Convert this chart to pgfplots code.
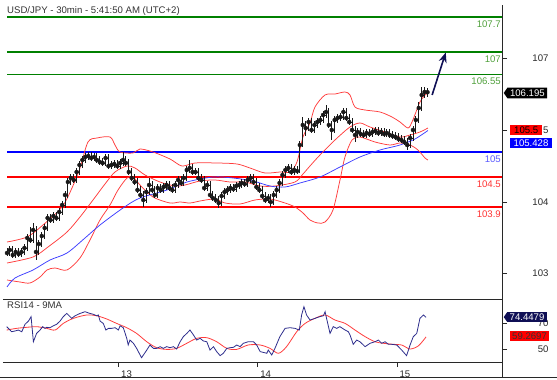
\documentclass[border=0pt]{standalone}
\usepackage{fontspec}
\setmainfont{Liberation Sans}
\usepackage{pgfplots}
\usepackage{pgfplotstable}
\pgfplotsset{compat=1.18}
\usetikzlibrary{shapes.symbols,arrows.meta}

\definecolor{lvgreen}{RGB}{0,128,0}
\definecolor{lvgreentxt}{RGB}{80,160,60}
\definecolor{lvblue}{RGB}{0,0,255}
\definecolor{lvbluetxt}{RGB}{90,90,255}
\definecolor{lvred}{RGB}{255,0,0}
\definecolor{lvredtxt}{RGB}{255,50,50}
\definecolor{band}{RGB}{255,60,60}
\definecolor{ma}{RGB}{60,60,255}
\definecolor{barcol}{RGB}{25,25,25}
\definecolor{navy}{RGB}{15,15,85}
\definecolor{rsiblue}{RGB}{45,45,140}
\definecolor{rsired}{RGB}{255,60,60}
\definecolor{axcol}{RGB}{40,40,40}

\pgfdeclareplotmark{otick}{\pgfpathmoveto{\pgfqpoint{-1.5pt}{0pt}}\pgfpathlineto{\pgfqpoint{0pt}{0pt}}\pgfusepathqstroke}
\pgfdeclareplotmark{ctick}{\pgfpathmoveto{\pgfqpoint{0pt}{0pt}}\pgfpathlineto{\pgfqpoint{1.5pt}{0pt}}\pgfusepathqstroke}

\newcommand{\fs}{\fontsize{9.6}{11}\selectfont}

\pgfplotstableread{
i o h l c
0 103.00 103.07 102.91 102.98
1 102.98 103.11 102.91 103.04
2 103.04 103.11 102.87 102.94
3 102.94 103.07 102.87 103.00
4 103.00 103.07 102.89 102.96
5 102.96 103.07 102.89 103.00
6 103.00 103.15 102.93 103.08
7 103.08 103.35 103.01 103.28
8 103.28 103.50 103.17 103.24
9 103.24 103.58 103.17 103.44
10 103.44 103.51 102.84 103.00
11 103.00 103.23 102.93 103.16
12 103.16 103.39 103.09 103.32
13 103.32 103.55 103.25 103.48
14 103.48 103.75 103.41 103.68
15 103.68 103.75 103.57 103.64
16 103.64 103.79 103.57 103.72
17 103.72 103.79 103.61 103.68
18 103.68 103.87 103.61 103.80
19 103.80 104.01 103.73 103.94
20 103.94 104.21 103.87 104.14
21 104.14 104.47 104.07 104.40
22 104.40 104.55 104.33 104.48
23 104.48 104.55 104.37 104.44
24 104.44 104.67 104.37 104.60
25 104.60 104.81 104.53 104.74
26 104.74 104.91 104.67 104.84
27 104.84 104.97 104.77 104.90
28 104.90 104.99 104.83 104.92
29 104.92 104.99 104.81 104.88
30 104.88 104.97 104.81 104.90
31 104.90 104.97 104.77 104.84
32 104.84 104.91 104.73 104.80
33 104.80 104.87 104.71 104.78
34 104.78 104.95 104.71 104.88
35 104.88 104.95 104.65 104.72
36 104.72 104.81 104.65 104.74
37 104.74 104.83 104.67 104.76
38 104.76 104.83 104.65 104.72
39 104.72 104.85 104.65 104.78
40 104.78 105.00 104.71 104.84
41 104.84 104.91 104.71 104.78
42 104.78 104.85 104.53 104.60
43 104.60 104.67 104.41 104.48
44 104.48 104.55 104.33 104.40
45 104.40 104.47 104.17 104.24
46 104.24 104.31 104.07 104.14
47 104.14 104.21 103.90 104.04
48 104.04 104.27 103.97 104.20
49 104.20 104.48 104.13 104.34
50 104.34 104.41 104.17 104.24
51 104.24 104.31 104.07 104.14
52 104.14 104.35 104.07 104.28
53 104.28 104.35 104.17 104.24
54 104.24 104.37 104.17 104.30
55 104.30 104.41 104.23 104.34
56 104.34 104.41 104.21 104.28
57 104.28 104.35 104.17 104.24
58 104.24 104.41 104.17 104.34
59 104.34 104.51 104.27 104.44
60 104.44 104.51 104.31 104.38
61 104.38 104.55 104.31 104.48
62 104.48 104.71 104.41 104.64
63 104.64 104.84 104.57 104.68
64 104.68 104.75 104.53 104.60
65 104.60 104.67 104.53 104.60
66 104.60 104.67 104.41 104.48
67 104.48 104.55 104.37 104.44
68 104.44 104.51 104.21 104.28
69 104.28 104.41 104.21 104.34
70 104.34 104.41 104.07 104.14
71 104.14 104.21 104.01 104.08
72 104.08 104.15 103.97 104.04
73 104.04 104.11 103.88 103.98
74 103.98 104.19 103.91 104.12
75 104.12 104.27 104.05 104.20
76 104.20 104.31 104.13 104.24
77 104.24 104.35 104.17 104.28
78 104.28 104.35 104.19 104.26
79 104.26 104.39 104.19 104.32
80 104.32 104.41 104.25 104.34
81 104.34 104.45 104.27 104.38
82 104.38 104.45 104.29 104.36
83 104.36 104.51 104.29 104.44
84 104.44 104.56 104.37 104.48
85 104.48 104.55 104.33 104.40
86 104.40 104.47 104.23 104.30
87 104.30 104.37 104.17 104.24
88 104.24 104.31 104.05 104.12
89 104.12 104.19 103.97 104.04
90 104.04 104.15 103.97 104.08
91 104.08 104.15 103.90 104.00
92 104.00 104.21 103.93 104.14
93 104.14 104.31 104.07 104.24
94 104.24 104.45 104.17 104.38
95 104.38 104.61 104.31 104.54
96 104.54 104.71 104.47 104.64
97 104.64 104.75 104.57 104.68
98 104.68 104.75 104.53 104.60
99 104.60 104.71 104.53 104.64
100 104.64 104.71 104.55 104.62
101 104.62 105.21 104.58 105.14
102 105.14 105.70 105.10 105.54
103 105.54 105.62 105.32 105.48
104 105.48 105.67 105.41 105.60
105 105.60 105.67 105.37 105.44
106 105.44 105.61 105.37 105.54
107 105.54 105.67 105.47 105.60
108 105.60 105.71 105.53 105.64
109 105.64 105.81 105.57 105.74
110 105.74 105.94 105.67 105.80
111 105.80 105.87 105.47 105.54
112 105.54 105.61 105.24 105.44
113 105.44 105.71 105.37 105.64
114 105.64 105.75 105.57 105.68
115 105.68 105.77 105.61 105.70
116 105.70 105.88 105.63 105.80
117 105.80 105.87 105.61 105.68
118 105.68 105.75 105.53 105.60
119 105.60 105.67 105.37 105.44
120 105.44 105.51 105.20 105.34
121 105.34 105.47 105.27 105.40
122 105.40 105.47 105.29 105.36
123 105.36 105.43 105.27 105.34
124 105.34 105.45 105.27 105.38
125 105.38 105.45 105.29 105.36
126 105.36 105.47 105.29 105.40
127 105.40 105.49 105.33 105.42
128 105.42 105.49 105.31 105.38
129 105.38 105.47 105.31 105.40
130 105.40 105.47 105.29 105.36
131 105.36 105.45 105.29 105.38
132 105.38 105.45 105.27 105.34
133 105.34 105.41 105.25 105.32
134 105.32 105.39 105.23 105.30
135 105.30 105.37 105.19 105.26
136 105.26 105.33 105.17 105.24
137 105.24 105.31 105.13 105.20
138 105.20 105.27 105.04 105.14
139 105.14 105.35 105.07 105.28
140 105.28 105.51 105.21 105.44
141 105.44 105.71 105.37 105.64
142 105.64 106.00 105.57 105.88
143 105.88 106.30 105.81 106.14
144 106.14 106.30 106.08 106.20
145 106.20 106.28 106.10 106.195
}\bars

\pgfplotstableread{
i p
0 103.20
6.9 103.30
12.41 103.54
18.97 103.90
22.41 104.28
25.17 104.68
27.93 105.20
31.03 105.28
35.52 105.30
37.24 105.14
38.97 105.00
43.45 104.98
45.86 105.06
50.34 105.00
56.21 104.86
60.34 104.72
64.83 104.78
72.41 104.78
79.31 104.76
83.79 104.68
88.97 104.58
94.14 104.60
97.59 104.60
100.0 104.80
102.07 105.30
104.48 105.58
106.21 105.90
109.66 106.14
113.1 106.16
116.55 106.20
118.28 106.14
120.0 105.90
123.45 105.84
128.62 105.80
132.76 105.70
135.52 105.60
138.28 105.48
139.66 105.60
141.03 105.80
142.41 106.00
144.14 106.14
145.17 106.18
}\bbup

\pgfplotstableread{
i p
0 102.78
8.97 102.90
14.14 103.10
20.69 103.40
25.17 103.70
29.66 104.04
33.79 104.36
37.24 104.60
41.38 104.72
44.14 104.68
47.59 104.54
52.76 104.40
57.93 104.32
61.38 104.34
66.55 104.42
71.72 104.44
76.9 104.40
82.07 104.40
87.24 104.32
92.41 104.32
99.31 104.40
102.07 104.56
104.48 104.72
107.93 104.94
113.1 105.24
118.28 105.50
121.72 105.58
125.17 105.50
130.34 105.40
135.52 105.30
138.97 105.34
142.41 105.40
145.17 105.48
}\bbmid

\pgfplotstableread{
i p
0 102.44
4.48 102.40
7.93 102.38
11.38 102.50
13.79 102.64
16.55 102.68
20.69 102.64
25.17 102.88
28.62 103.24
32.07 103.64
35.52 103.94
38.28 104.24
41.38 104.48
43.45 104.50
45.86 104.34
50.34 104.10
56.21 103.98
59.66 104.00
63.1 103.98
66.55 104.02
71.72 104.06
75.17 103.98
80.34 103.96
85.52 104.04
90.69 104.06
95.86 103.98
99.31 103.90
102.07 103.78
104.48 103.64
107.24 103.58
109.66 103.60
112.41 103.84
114.83 104.44
116.55 104.90
118.97 105.24
121.72 105.30
126.9 105.20
132.07 105.14
135.52 105.18
138.97 105.14
141.72 105.04
144.14 104.88
145.17 104.84
}\bblow

\pgfplotstableread{
i p
0 102.30
2.76 102.48
8.97 102.64
14.83 102.84
20.69 102.98
26.9 103.28
32.07 103.54
40.0 103.88
45.86 104.08
55.17 104.24
62.07 104.40
71.03 104.50
77.93 104.48
84.83 104.42
90.69 104.32
95.86 104.30
101.03 104.38
107.93 104.50
114.83 104.70
121.72 104.90
128.62 105.04
135.52 105.14
140.69 105.26
145.17 105.43
}\mavg

\pgfplotstableread{
i r
-0.1 67.2
1.6 63.3
2.8 63.9
3.9 64.6
5.1 63.3
6.2 69.0
7.4 71.5
8.3 74.9
9.1 55.6
10.2 62.0
11.4 64.6
12.3 67.2
13.1 65.9
13.7 66.7
14.8 66.4
16.0 67.9
17.1 69.0
18.3 71.5
19.4 74.9
20.6 77.4
21.2 76.1
22.3 73.6
23.5 75.6
25.2 77.4
26.9 78.7
28.6 77.4
29.8 76.7
30.9 75.6
31.5 76.2
32.1 71.5
33.2 69.7
34.1 64.6
35.0 65.9
36.1 65.9
37.3 66.4
38.4 64.6
39.0 67.9
40.1 66.4
41.3 58.2
41.8 53.1
42.4 56.9
43.6 54.4
44.7 50.5
46.4 43.3
48.2 49.2
49.3 53.1
50.5 50.5
51.6 50.5
52.8 51.8
53.9 50.5
55.1 51.8
56.2 51.0
57.4 51.8
58.5 50.0
59.7 55.6
60.8 59.5
62.0 62.0
63.1 64.6
64.3 60.8
65.4 56.9
66.6 58.2
67.7 56.2
68.9 55.6
70.0 49.2
71.2 51.8
72.3 48.0
73.5 44.9
74.6 46.7
75.8 50.5
76.9 51.0
78.1 51.3
79.2 53.1
80.4 51.8
81.5 54.4
83.2 55.6
85.0 55.6
86.1 53.1
87.3 48.0
88.4 47.4
89.6 46.7
90.1 49.2
91.3 45.4
92.4 50.5
94.1 59.5
95.9 65.9
97.6 66.4
99.3 65.9
100.8 64.6
101.6 76.2
102.4 82.6
103.3 76.2
104.5 72.3
106.2 73.6
107.9 74.9
109.1 75.6
109.7 78.7
110.2 73.6
111.4 62.0
112.5 67.2
113.7 65.9
114.8 67.2
116.6 64.6
117.7 63.3
118.3 60.8
119.4 53.6
120.6 56.9
121.7 55.6
123.5 51.8
125.2 54.4
126.9 55.6
128.1 56.9
129.2 54.4
130.4 55.6
131.5 53.6
132.7 53.6
134.4 53.1
136.1 49.2
137.8 44.9
139.0 53.1
140.1 59.5
141.3 62.0
142.4 73.6
143.6 76.2
144.5 74.4
}\rsi

\pgfplotstableread{
i r
-0.1 64.6
3.3 65.9
6.8 66.7
10.2 67.2
13.7 65.9
16.6 64.6
19.4 69.7
22.9 73.6
27.5 76.2
30.9 75.6
34.4 73.1
37.8 69.7
41.3 66.4
44.7 62.0
48.2 55.6
51.6 51.0
55.1 49.7
58.5 50.5
62.0 54.4
65.4 58.2
68.9 58.7
72.3 55.6
75.8 50.5
79.2 49.7
83.2 53.1
87.3 53.1
90.7 50.5
93.6 46.7
96.4 51.8
99.9 63.3
102.8 69.7
106.2 73.6
109.7 76.2
113.1 72.3
116.6 69.7
120.0 64.6
123.5 59.5
126.9 55.6
129.8 54.4
133.2 53.6
136.1 53.1
139.0 50.0
141.9 52.5
144.5 59.3
}\rsima

\begin{document}
\begin{tikzpicture}
\path[use as bounding box] (0,0) rectangle (557pt,380pt);

% ---------- main price panel ----------
\begin{axis}[
  at={(3pt,81pt)}, anchor=south west, scale only axis,
  width=499pt, height=291pt,
  xmin=-1.38, xmax=170.7, ymin=102.06, ymax=107.88,
  axis x line*=bottom, axis y line*=right,
  axis line style={-, axcol, line width=0.8pt},
  xtick=\empty,
  ytick={106.88,105.44,104.00,102.58},
  yticklabels={107,105.5,104,103},
  tick align=outside, major tick length=5pt,
  tick style={axcol, line width=0.8pt},
  yticklabel style={anchor=east, xshift=45pt, font=\fs, text=axcol},
  clip=false,
]
% level lines
\addplot[lvgreen, line width=1.6pt] coordinates {(0,107.7) (170.7,107.7)};
\addplot[lvgreen, line width=1.6pt] coordinates {(0,107.0) (170.7,107.0)};
\addplot[lvgreen, line width=1.6pt] coordinates {(0,106.55) (170.7,106.55)};
\addplot[lvblue, line width=1.6pt] coordinates {(0,105.0) (170.7,105.0)};
\addplot[lvred, line width=1.6pt] coordinates {(0,104.5) (170.7,104.5)};
\addplot[lvred, line width=1.6pt] coordinates {(0,103.9) (170.7,103.9)};

% bollinger bands and moving average
\addplot[band, line width=0.75pt, smooth] table[x=i,y=p] {\bbup};
\addplot[band, line width=0.75pt, smooth] table[x=i,y=p] {\bbmid};
\addplot[band, line width=0.75pt, smooth] table[x=i,y=p] {\bblow};
\addplot[ma, line width=0.75pt, smooth] table[x=i,y=p] {\mavg};

% OHLC bars
\addplot[barcol, only marks, mark=none,
  error bars/.cd, y dir=both, y explicit, error mark=none,
  error bar style={line width=0.9pt, barcol}]
  table[x=i, y=c, y error plus expr=\thisrow{h}-\thisrow{c}, y error minus expr=\thisrow{c}-\thisrow{l}] {\bars};
\addplot[barcol, only marks, mark=otick, mark options={line width=0.9pt}] table[x=i,y=o] {\bars};
\addplot[barcol, only marks, mark=ctick, mark options={line width=0.9pt}] table[x=i,y=c] {\bars};

% forecast arrow
\addplot[navy, line width=1.6pt, -{Stealth[length=10pt,width=8pt]}] coordinates {(146.6,106.14) (151.3,106.99)};

% level labels
\node[anchor=north east, inner sep=1pt, yshift=-2.5pt, font=\fs, text=lvgreentxt] at (axis cs:170.7,107.7) {107.7};
\node[anchor=north east, inner sep=1pt, yshift=-2.5pt, font=\fs, text=lvgreentxt] at (axis cs:170.7,107.0) {107};
\node[anchor=north east, inner sep=1pt, yshift=-2.5pt, font=\fs, text=lvgreentxt] at (axis cs:170.7,106.55) {106.55};
\node[anchor=north east, inner sep=1pt, yshift=-2.5pt, font=\fs, text=lvbluetxt] at (axis cs:170.7,105.0) {105};
\node[anchor=north east, inner sep=1pt, yshift=-2.5pt, font=\fs, text=lvredtxt] at (axis cs:170.7,104.5) {104.5};
\node[anchor=north east, inner sep=1pt, yshift=-2.5pt, font=\fs, text=lvredtxt] at (axis cs:170.7,103.9) {103.9};

% anchor points for value boxes
\coordinate (vLast) at (axis cs:170.7,106.18);
\coordinate (vMid) at (axis cs:170.7,105.44);
\coordinate (vMA) at (axis cs:170.7,105.18);
\end{axis}

% ---------- RSI panel ----------
\begin{axis}[
  at={(3pt,18pt)}, anchor=south west, scale only axis,
  width=499pt, height=63pt,
  xmin=-1.38, xmax=170.7, ymin=40, ymax=88.5,
  axis x line*=bottom, axis y line*=right,
  axis line style={-, axcol, line width=0.8pt},
  xtick={38.5,86.5,134.5}, xticklabels={13,14,15},
  ytick={50,70}, yticklabels={50,70},
  tick align=outside, major tick length=5pt,
  tick style={axcol, line width=0.8pt},
  xticklabel style={anchor=north west, xshift=-1pt, font=\fs, text=axcol},
  yticklabel style={anchor=east, xshift=45pt, font=\fs, text=axcol},
  clip=false,
]
\addplot[rsired, line width=0.8pt, smooth] table[x=i,y=r] {\rsima};
\addplot[rsiblue, line width=0.8pt] table[x=i,y=r] {\rsi};
\coordinate (vRsi) at (axis cs:170.7,74.6);
\coordinate (vRsiMA) at (axis cs:170.7,60.0);
\end{axis}

% value boxes, drawn over the tick labels
\node[signal, signal to=west, signal pointer angle=110, fill=black, text=white, font=\fs,
  inner xsep=2.5pt, inner ysep=2pt, anchor=west] at ([xshift=1.5pt]vLast) {106.195};
\node[fill=lvred, text=black, font=\fs, inner xsep=4pt, inner ysep=2pt, anchor=west]
  at ([xshift=8pt]vMid) {105.5};
\node[fill=lvblue, text=white, font=\fs, inner xsep=3.5pt, inner ysep=2pt, anchor=west]
  at ([xshift=8pt]vMA) {105.428};
\node[signal, signal to=west, signal pointer angle=110, fill=navy, text=white, font=\fs,
  inner xsep=2.5pt, inner ysep=1.5pt, anchor=west] at ([xshift=1.5pt]vRsi) {74.4479};
\node[fill=lvred, text=black!80, font=\fs, inner xsep=2pt, inner ysep=1.5pt, anchor=west]
  at ([xshift=8pt]vRsiMA) {59.2697};

% frame and titles
\draw[axcol, line width=0.8pt] (502pt,3pt) -- (502pt,375pt);
\draw[axcol, line width=0.8pt] (0pt,3pt) -- (557pt,3pt);
\node[anchor=west, inner sep=0pt, font=\fs, text=black!80] at (7pt,369pt) {USD/JPY - 30min - 5:41:50 AM (UTC+2)};
\node[anchor=west, inner sep=0pt, font=\fs, text=black!80] at (7pt,74.5pt) {RSI14 - 9MA};
\end{tikzpicture}
\end{document}
